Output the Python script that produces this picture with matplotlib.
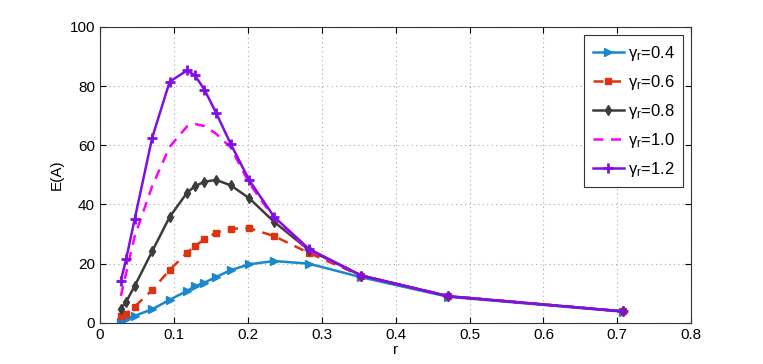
import matplotlib
matplotlib.use("Agg")
import matplotlib.pyplot as plt

plt.rcParams['font.family'] = ['Liberation Sans', 'DejaVu Sans']
plt.rcParams['mathtext.fontset'] = 'custom'
plt.rcParams['mathtext.rm'] = 'Liberation Sans'
plt.rcParams['mathtext.it'] = 'Liberation Sans'

# r values (sqrt(2)/n)
r = [0.0283, 0.0354, 0.0471, 0.0707, 0.0943, 0.1179, 0.1286, 0.1414,
     0.1571, 0.1768, 0.2020, 0.2357, 0.2828, 0.3536, 0.4714, 0.7071]

e_04 = [0.4, 1.2, 2.4, 4.6, 7.8, 10.8, 12.4, 13.6, 15.5, 17.8, 19.8, 20.9,
        20.0, 15.4, 8.8, 3.8]
e_06 = [2.2, 3.1, 5.5, 11.1, 17.9, 23.7, 26.0, 28.2, 30.5, 31.8, 32.0, 29.3,
        23.6, 15.9, 9.0, 3.9]
e_08 = [4.8, 7.1, 12.5, 24.2, 35.8, 44.0, 46.2, 47.7, 48.3, 46.5, 42.1, 34.1,
        24.6, 16.0, 9.0, 3.9]
e_10 = [9.1, 16.8, 29.3, 46.2, 59.5, 66.4, 67.2, 66.5, 63.9, 59.3, 47.2, 35.3,
        24.6, 16.0, 9.0, 3.9]
e_12 = [14.3, 21.5, 35.2, 62.6, 81.5, 85.3, 83.6, 78.8, 71.0, 60.5, 48.2, 35.8,
        25.0, 16.0, 9.0, 3.9]

labels = [r'$\gamma_r$=0.4', r'$\gamma_r$=0.6', r'$\gamma_r$=0.8',
          r'$\gamma_r$=1.0', r'$\gamma_r$=1.2']

fig = plt.figure(figsize=(7.63, 3.64), dpi=100)
ax = fig.add_axes([0.131, 0.113, 0.775, 0.813])

ax.plot(r, e_04, color='#1a88cc', lw=1.8, marker='>', ms=6, label=labels[0])
ax.plot(r, e_06, color='#dd3311', lw=1.8, ls='--', dashes=(4, 3), marker='s',
        ms=4.5, label=labels[1])
ax.plot(r, e_08, color='#3c3c3c', lw=1.8, marker='d', ms=5.5, label=labels[2])
ax.plot(r, e_10, color='#ff00ff', lw=1.8, ls='--', dashes=(4, 3), label=labels[3])
ax.plot(r, e_12, color='#7f10e0', lw=1.8, marker='+', ms=7, mew=2, label=labels[4])

ax.set_xlim(0, 0.8)
ax.set_ylim(0, 100)
ax.set_xticks([0, 0.1, 0.2, 0.3, 0.4, 0.5, 0.6, 0.7, 0.8])
ax.set_xticklabels(['0', '0.1', '0.2', '0.3', '0.4', '0.5', '0.6', '0.7', '0.8'])
ax.set_yticks([0, 20, 40, 60, 80, 100])
ax.tick_params(direction='in', labelsize=11, length=4, top=True, right=True)
ax.grid(True, ls=(0, (1, 3)), color='#aaaaaa', lw=0.8)
for s in ax.spines.values():
    s.set_color('#333333')
    s.set_linewidth(0.8)
ax.set_xlabel('r', fontsize=11, labelpad=1)
ax.set_ylabel('E(A)', fontsize=11)

leg = ax.legend(loc='upper right', fontsize=12, handlelength=1.9, fancybox=False,
                framealpha=1, edgecolor='#333333', borderaxespad=0.5,
                labelspacing=0.6, handletextpad=0.2, borderpad=0.5)
leg.get_frame().set_linewidth(0.8)

fig.savefig('out.png', dpi=100)
